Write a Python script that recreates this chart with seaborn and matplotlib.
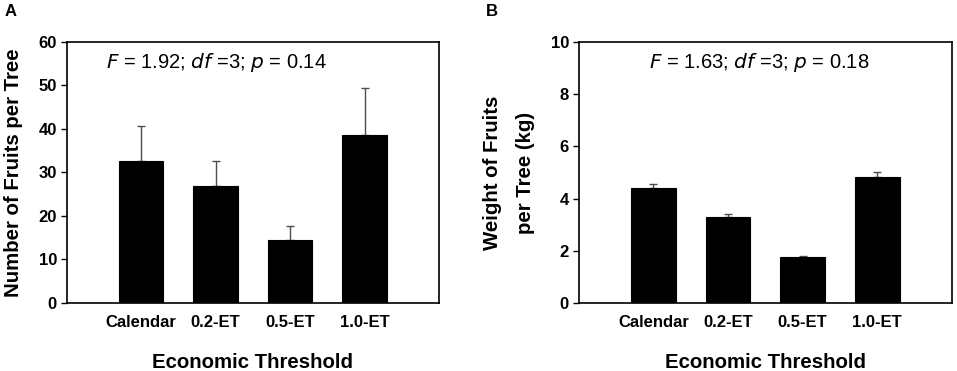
import pandas as pd
import seaborn as sns
import matplotlib.pyplot as plt

# data
categories = ['Calendar', '0.2-ET', '0.5-ET', '1.0-ET']
fruit_number = [32.7, 27.0, 14.4, 38.6]
fruit_number_se = [8.1, 5.6, 3.2, 10.8]
fruit_weight = [4.41, 3.30, 1.76, 4.82]
fruit_weight_se = [0.16, 0.11, 0.05, 0.19]

sns.set_style('white')
plt.rcParams['font.family'] = ['Liberation Sans', 'DejaVu Sans']
plt.rcParams['text.color'] = 'black'
plt.rcParams['axes.labelcolor'] = 'black'
plt.rcParams['xtick.color'] = 'black'
plt.rcParams['ytick.color'] = 'black'

fig = plt.figure(figsize=(9.57, 3.71), dpi=100)
axA = fig.add_axes([0.0697, 0.1833, 0.389, 0.7035])
axB = fig.add_axes([0.6047, 0.1833, 0.390, 0.7035])

panels = [
    (axA, fruit_number, fruit_number_se, 60, 10, 'Number of Fruits per Tree',
     r'$\it{F}$ = 1.92; $\it{df}$ =3; $\it{p}$ = 0.14', 216),
    (axB, fruit_weight, fruit_weight_se, 10, 2, 'Weight of Fruits\nper Tree (kg)',
     r'$\it{F}$ = 1.63; $\it{df}$ =3; $\it{p}$ = 0.18', 759),
]

for ax, vals, errs, ymax, step, ylabel, stat, stat_x in panels:
    df = pd.DataFrame({'cat': categories, 'val': vals})
    sns.barplot(data=df, x='cat', y='val', color='black', width=0.6,
                saturation=1, errorbar=None, ax=ax, zorder=3,
                edgecolor='black', linewidth=0.8)
    ax.errorbar(range(len(categories)), vals, yerr=[[0] * len(errs), errs],
                fmt='none', ecolor='#4d4d4d', elinewidth=1, capsize=3,
                capthick=1, zorder=2)
    ax.set_xlim(-1, 4)
    ax.set_ylim(0, ymax)
    ax.set_yticks(range(0, ymax + 1, step))
    for s in ax.spines.values():
        s.set_visible(True)
        s.set_color('black')
        s.set_linewidth(1.2)
    ax.tick_params(axis='y', direction='out', length=4, width=1, left=True,
                   labelsize=12, pad=3)
    ax.tick_params(axis='x', length=0, labelsize=12, pad=9)
    for lab in ax.get_xticklabels() + ax.get_yticklabels():
        lab.set_fontweight('bold')
    ax.set_xlabel('Economic Threshold', fontsize=14.7, fontweight='bold', labelpad=16)
    ax.set_ylabel(ylabel, fontsize=14.7, fontweight='bold', labelpad=11,
                  linespacing=1.95)
    fig.text(stat_x / 957, 1 - 62 / 371, stat, fontsize=14.5, ha='center', va='center')

fig.text(5 / 957, 1 - 12 / 371, 'A', fontsize=12, fontweight='bold', va='center')
fig.text(486 / 957, 1 - 12 / 371, 'B', fontsize=12, fontweight='bold', va='center')

fig.savefig('out.png', dpi=100)
